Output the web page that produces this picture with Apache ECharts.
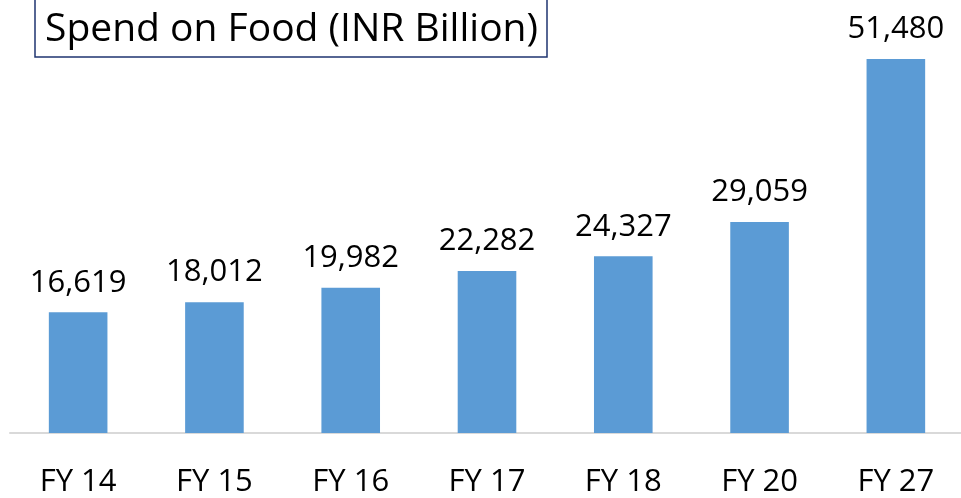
<!DOCTYPE html>
<html>
<head>
<meta charset="utf-8">
<script src="https://cdn.jsdelivr.net/npm/echarts@6/dist/echarts.min.js"></script>
<style>
  html, body { margin: 0; padding: 0; background: #fff; }
  #chart { width: 961px; height: 498px; }
</style>
</head>
<body>
<div id="chart"></div>
<script>
// 年份与食品支出（十亿卢比）
const years = ["FY 14", "FY 15", "FY 16", "FY 17", "FY 18", "FY 20", "FY 27"];
const spend = [16619, 18012, 19982, 22282, 24327, 29059, 51480];

const chart = echarts.init(document.getElementById("chart"));

const options = {
  animation: false,
  title: {
    text: "Spend on Food (INR Billion)",
    left: 35,
    top: -6,
    borderColor: "#1F3570",
    borderWidth: 1.5,
    padding: [16, 9, 8, 10],
    textStyle: {
      fontFamily: "Open Sans",
      fontWeight: "normal",
      fontSize: 39,
      color: "#000",
    },
  },
  grid: {
    left: 10,
    width: 954,
    top: 59,
    height: 374,
    outerBoundsMode: "none",
    containLabel: false,
  },
  xAxis: {
    type: "category",
    data: years,
    axisLine: {
      lineStyle: { color: "#D9D9D9", width: 2 },
    },
    axisTick: { show: false },
    axisLabel: {
      margin: 34,
      color: "#000",
      fontFamily: "Open Sans",
      fontSize: 31,
    },
  },
  yAxis: {
    type: "value",
    min: 0,
    max: 51480,
    show: false,
    splitLine: { show: false },
  },
  series: [
    {
      type: "bar",
      data: spend,
      barWidth: "43%",
      itemStyle: { color: "#5B9BD5" },
      label: {
        show: true,
        position: "top",
        distance: 14,
        color: "#000",
        fontFamily: "Open Sans",
        fontSize: 31,
        formatter: (p) => p.value.toLocaleString("en-US"),
      },
    },
  ],
};

chart.setOption(options);
</script>
</body>
</html>
